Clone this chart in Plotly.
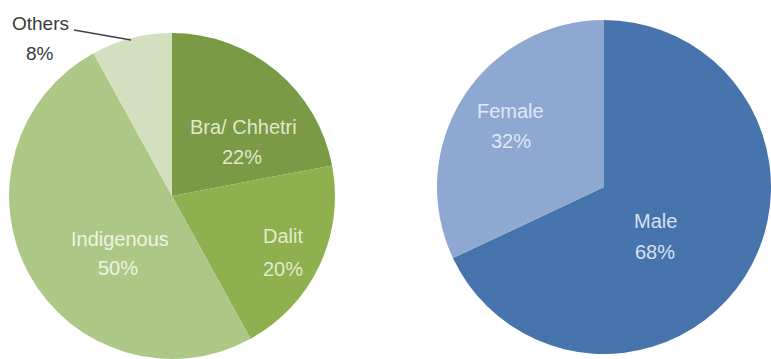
import plotly.graph_objects as go

# Caste / ethnicity breakdown
caste_labels = ["Bra/ Chhetri", "Dalit", "Indigenous", "Others"]
caste_values = [22, 20, 50, 8]
caste_colors = ["#7a9a45", "#8fb04e", "#adc886", "#d3e0bf"]

# Gender breakdown
gender_labels = ["Male", "Female"]
gender_values = [68, 32]
gender_colors = ["#4774ad", "#8fa8d2"]

W, H = 771, 359

fig = go.Figure()

fig.add_trace(go.Pie(
    labels=caste_labels,
    values=caste_values,
    marker=dict(colors=caste_colors, line=dict(width=0)),
    sort=False,
    direction="clockwise",
    rotation=0,
    textinfo="none",
    hoverinfo="skip",
    showlegend=False,
    domain=dict(x=[9 / W, 335 / W], y=[0, 326 / H]),
))

fig.add_trace(go.Pie(
    labels=gender_labels,
    values=gender_values,
    marker=dict(colors=gender_colors, line=dict(width=0)),
    sort=False,
    direction="clockwise",
    rotation=0,
    textinfo="none",
    hoverinfo="skip",
    showlegend=False,
    domain=dict(x=[437 / W, 1], y=[5 / H, 339 / H]),
))

# Label placement (pixel centres of name line and value line, colour, size)
caste_pos = {
    "Bra/ Chhetri": ((243, 127), (242, 157), "rgba(235,242,215,0.92)", 20),
    "Dalit": ((283, 236), (283, 269), "rgba(235,242,215,0.92)", 20),
    "Indigenous": ((120, 239), (118, 268), "rgba(245,250,235,0.92)", 20),
    "Others": ((40, 24), (40, 53), "#3a3a3a", 19),
}
gender_pos = {
    "Male": ((655, 221), (655, 252), "rgba(225,233,245,0.95)", 20),
    "Female": ((510, 111), (511, 141), "rgba(230,237,248,0.95)", 20),
}

annotations = []


def add_labels(labels, values, pos):
    for lab, val in zip(labels, values):
        (nx, ny), (vx, vy), col, size = pos[lab]
        for txt, (x, y) in ((lab, (nx, ny)), (f"{val}%", (vx, vy))):
            annotations.append(dict(
                text=txt, x=x / W, y=1 - y / H, xref="paper", yref="paper",
                xanchor="center", yanchor="middle", showarrow=False,
                font=dict(family="Arial, Liberation Sans, sans-serif", size=size, color=col),
            ))


add_labels(caste_labels, caste_values, caste_pos)
add_labels(gender_labels, gender_values, gender_pos)

fig.update_layout(
    width=W,
    height=H,
    margin=dict(l=0, r=0, t=0, b=0),
    paper_bgcolor="white",
    plot_bgcolor="white",
    annotations=annotations,
    shapes=[dict(
        type="line", xref="paper", yref="paper",
        x0=74 / W, y0=1 - 30 / H, x1=131 / W, y1=1 - 40 / H,
        line=dict(color="#404040", width=1.5),
    )],
)

fig.write_html("out.html")
